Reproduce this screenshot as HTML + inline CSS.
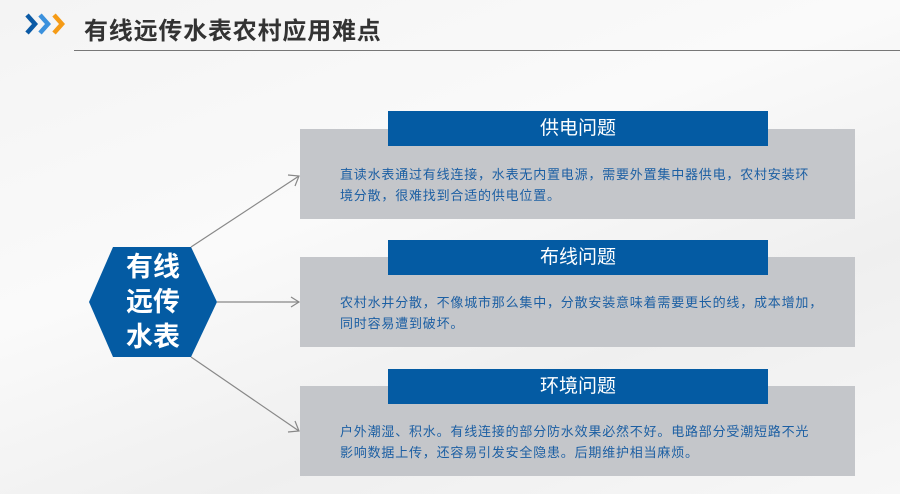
<!DOCTYPE html><html><head><meta charset="utf-8"><style>
body{margin:0;width:900px;height:494px;overflow:hidden;background:linear-gradient(160deg,#f4f4f4,#fafafa 40%,#efefef 70%,#f7f7f7);font-family:"Liberation Sans","Noto Sans CJK SC",sans-serif;position:relative}
.a{position:absolute}
.box{position:absolute;left:300px;width:555px;height:90px;background:#c4c6ca}
.hd{position:absolute;left:388px;width:380px;height:35px;background:#045ba3;color:#fff;font-size:19px;text-align:center;line-height:35px}
.tx{position:absolute;left:40px;top:35px;white-space:nowrap;font-size:13px;letter-spacing:0.8px;line-height:21px;color:#1c5fa3}
</style></head><body>
<svg class="a" style="left:0;top:0" width="900" height="494">
<g fill="none" stroke-width="4.5">
<polyline points="27,15 35,24 27,33" stroke="#0b5aa5"/>
<polyline points="40,15 48,24 40,33" stroke="#3b91dd"/>
<polyline points="54,15 62,24 54,33" stroke="#f59b16"/>
</g>
<polygon points="89,302 113,247 191,247 217,302 191,357 113,357" fill="#045ba3"/>
<g stroke="#888" stroke-width="1.2" fill="none">
<line x1="191" y1="247" x2="299" y2="176"/><polyline points="288,175 299,176 295,186"/>
<line x1="217" y1="302" x2="299" y2="302"/><polyline points="291,297 299,302 291,307"/>
<line x1="191" y1="357" x2="299" y2="431"/><polyline points="295,421 299,431 288,432"/>
</g></svg>
<div class="a" style="left:84px;top:11px;font-size:24px;font-weight:bold;color:#333;letter-spacing:0.8px">有线远传水表农村应用难点</div>
<div class="a" style="left:74px;top:50px;width:826px;height:1px;background:#777"></div>
<div class="a" style="left:111px;top:250px;width:84px;text-align:center;color:#fff;font-size:27px;font-weight:bold;line-height:35px">有线<br>远传<br>水表</div>
<div class="box" style="top:129px"><div class="tx">直读水表通过有线连接，水表无内置电源，需要外置集中器供电，农村安装环<br>境分散，很难找到合适的供电位置。</div></div>
<div class="hd" style="top:111px">供电问题</div>
<div class="box" style="top:257px"><div class="tx">农村水井分散，不像城市那么集中，分散安装意味着需要更长的线，成本增加，<br>同时容易遭到破坏。</div></div>
<div class="hd" style="top:240px">布线问题</div>
<div class="box" style="top:386px"><div class="tx">户外潮湿、积水。有线连接的部分防水效果必然不好。电路部分受潮短路不光<br>影响数据上传，还容易引发安全隐患。后期维护相当麻烦。</div></div>
<div class="hd" style="top:369px">环境问题</div>
</body></html>
